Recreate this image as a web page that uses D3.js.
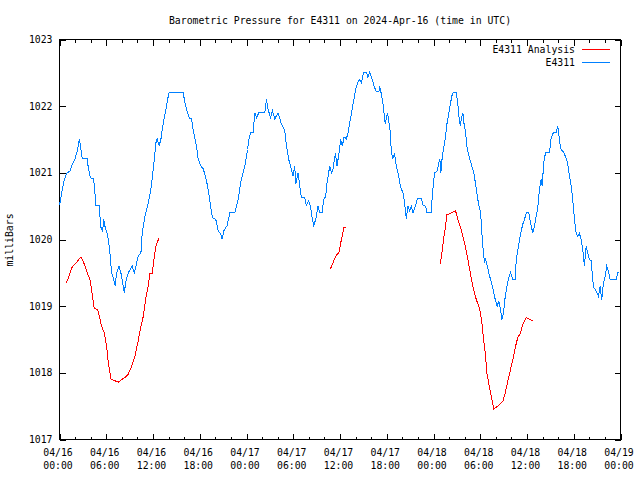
<!DOCTYPE html>
<html><head><meta charset="utf-8">
<script src="https://cdn.jsdelivr.net/npm/d3@7"></script>
<style>
body{margin:0;background:#fff;}
svg{display:block;}
text{font-family:"DejaVu Sans Mono","Liberation Mono",monospace;font-size:9.8px;fill:#000;}
</style></head><body>
<svg id="c" width="640" height="480"></svg>
<script>
// ---- data (hours since 2024-04-16 00:00 UTC) ----
const stationHours = [0.0,0.28,0.62,0.92,1.35,1.64,1.99,2.33,2.54,2.76,2.92,3.56,3.69,3.91,4.13,4.38,4.55,4.64,5.10,5.19,5.32,5.54,5.67,5.83,6.09,6.26,6.47,6.69,6.95,7.15,7.33,7.63,7.88,8.10,8.31,8.53,8.82,9.33,9.59,9.81,10.10,10.45,10.62,10.96,11.31,11.73,12.12,12.37,12.54,12.79,13.01,13.18,13.40,13.65,13.87,14.08,15.87,16.09,16.44,16.69,16.95,17.15,17.37,17.59,17.79,18.10,18.44,18.74,19.00,19.21,19.42,19.64,20.06,20.36,20.67,20.87,21.09,21.51,21.86,22.50,22.72,23.01,23.23,23.56,23.87,24.13,24.29,24.55,24.85,25.06,25.28,25.58,26.35,26.56,26.77,27.08,27.33,27.63,28.05,28.49,28.91,29.13,29.42,29.77,29.97,30.19,30.32,30.62,30.83,31.05,31.47,31.69,31.99,32.21,32.46,32.63,32.88,33.18,33.40,33.69,33.91,34.17,34.33,34.68,34.90,35.10,35.41,35.62,35.87,36.09,36.31,36.51,36.82,37.03,37.33,37.67,38.01,38.31,38.53,38.74,39.04,39.38,39.59,39.81,40.15,40.36,40.67,41.00,41.09,41.31,41.51,41.64,41.82,42.08,42.24,42.46,42.59,42.79,43.01,43.23,43.53,43.74,44.08,44.29,44.51,44.72,44.94,45.15,45.36,45.67,45.92,46.44,46.64,46.99,47.15,47.72,47.85,48.14,48.49,48.69,48.82,48.95,49.13,49.29,49.51,49.72,49.97,50.19,50.41,50.62,50.92,51.13,51.26,51.44,51.60,51.77,51.90,52.12,52.33,52.63,52.92,53.18,53.40,53.62,53.82,54.04,54.21,54.33,54.55,54.68,54.90,55.10,55.32,55.54,55.74,55.96,56.18,56.38,56.60,56.77,56.99,57.21,57.42,57.63,57.88,58.18,58.49,58.62,58.82,59.04,59.26,59.46,59.68,59.90,60.23,60.45,60.74,60.96,61.18,61.38,61.60,61.82,61.95,62.15,62.37,62.88,63.10,63.40,63.74,63.95,64.08,64.17,64.38,64.68,65.03,65.23,65.45,65.67,65.87,66.09,66.31,66.51,66.73,66.95,67.15,67.37,67.59,67.79,68.01,68.23,68.44,68.56,68.87,69.17,69.38,69.59,69.81,70.03,70.23,70.45,70.67,71.44,71.64,71.86];
const stationValues = [1020.51,1020.70,1020.90,1020.99,1021.03,1021.13,1021.21,1021.35,1021.51,1021.35,1021.21,1021.21,1021.08,1020.95,1020.91,1020.91,1020.70,1020.51,1020.51,1020.35,1020.18,1020.13,1020.31,1020.20,1020.10,1020.01,1019.80,1019.50,1019.40,1019.31,1019.50,1019.60,1019.50,1019.35,1019.20,1019.38,1019.50,1019.60,1019.50,1019.60,1019.75,1019.80,1020.10,1020.35,1020.51,1020.75,1021.15,1021.45,1021.51,1021.41,1021.50,1021.65,1021.80,1021.95,1022.10,1022.21,1022.21,1022.05,1021.90,1021.81,1021.81,1021.65,1021.52,1021.40,1021.21,1021.11,1021.06,1020.95,1020.80,1020.65,1020.47,1020.33,1020.30,1020.13,1020.09,1020.01,1020.13,1020.21,1020.40,1020.40,1020.50,1020.65,1020.85,1021.00,1021.15,1021.35,1021.50,1021.60,1021.60,1021.90,1021.83,1021.90,1021.90,1022.10,1021.95,1021.83,1021.93,1021.81,1021.90,1021.73,1021.63,1021.40,1021.20,1021.05,1020.95,1021.10,1020.83,1021.00,1020.80,1020.63,1020.63,1020.51,1020.58,1020.50,1020.30,1020.21,1020.30,1020.50,1020.40,1020.40,1020.60,1020.65,1020.85,1021.10,1021.00,1021.05,1021.30,1021.10,1021.30,1021.50,1021.40,1021.54,1021.51,1021.60,1021.80,1022.03,1022.25,1022.36,1022.40,1022.35,1022.51,1022.51,1022.43,1022.51,1022.40,1022.30,1022.22,1022.22,1022.30,1022.18,1022.05,1021.90,1021.73,1021.90,1021.80,1021.60,1021.30,1021.22,1021.28,1021.10,1020.95,1020.80,1020.70,1020.55,1020.31,1020.50,1020.43,1020.50,1020.40,1020.50,1020.61,1020.61,1020.52,1020.50,1020.41,1020.41,1020.68,1021.00,1021.03,1021.15,1021.20,1021.00,1021.25,1021.35,1021.52,1021.73,1021.90,1022.05,1022.18,1022.21,1022.21,1022.03,1021.85,1021.71,1021.83,1021.90,1021.75,1021.60,1021.35,1021.22,1021.10,1021.00,1020.83,1020.65,1020.51,1020.41,1020.10,1019.90,1019.65,1019.70,1019.60,1019.50,1019.40,1019.30,1019.20,1019.08,1019.00,1019.08,1018.95,1018.80,1018.90,1019.15,1019.30,1019.41,1019.50,1019.40,1019.40,1019.70,1019.83,1020.00,1020.13,1020.23,1020.30,1020.40,1020.40,1020.25,1020.10,1020.20,1020.35,1020.47,1020.75,1020.90,1020.81,1021.15,1021.30,1021.30,1021.52,1021.61,1021.61,1021.70,1021.60,1021.47,1021.35,1021.31,1021.22,1021.13,1020.95,1020.80,1020.60,1020.30,1020.10,1020.05,1020.09,1020.00,1019.85,1019.60,1019.90,1019.80,1019.70,1019.68,1019.40,1019.28,1019.23,1019.15,1019.30,1019.10,1019.35,1019.45,1019.60,1019.53,1019.40,1019.40,1019.50,1019.50];

// analysis series, null marks a gap
const analysisHours = [0.79,1.13,1.35,1.64,2.21,2.76,3.18,3.56,3.91,4.13,4.46,4.90,5.10,5.41,5.74,6.05,6.26,6.60,7.12,7.63,7.88,8.40,8.82,9.26,9.68,10.10,10.45,10.74,11.05,11.38,11.60,11.90,12.12,12.37,12.76,
  20.0,
  34.77,35.10,35.45,35.87,36.18,36.51,36.82,
  42.0,
  48.87,49.08,49.29,49.55,49.72,50.28,50.83,51.13,51.47,51.77,52.08,52.41,52.72,53.05,53.49,53.91,54.21,54.42,54.64,54.85,55.19,55.49,55.74,56.26,56.90,57.21,57.54,57.85,58.18,58.49,58.82,59.17,59.46,59.90,60.32,60.74];
const analysisValues = [1019.34,1019.42,1019.50,1019.59,1019.66,1019.74,1019.63,1019.50,1019.40,1019.23,1018.97,1018.95,1018.85,1018.70,1018.60,1018.40,1018.15,1017.91,1017.88,1017.86,1017.89,1017.93,1017.98,1018.10,1018.25,1018.48,1018.70,1018.84,1019.10,1019.30,1019.49,1019.49,1019.70,1019.90,1020.02,
  null,
  1019.56,1019.65,1019.75,1019.81,1020.00,1020.18,1020.19,
  null,
  1019.63,1019.80,1020.00,1020.20,1020.37,1020.40,1020.43,1020.30,1020.18,1020.05,1019.90,1019.70,1019.50,1019.30,1019.10,1018.97,1018.75,1018.50,1018.30,1018.00,1017.78,1017.60,1017.46,1017.50,1017.57,1017.70,1017.88,1018.03,1018.20,1018.38,1018.53,1018.60,1018.73,1018.83,1018.80,1018.78];

const yTicks = [1017,1018,1019,1020,1021,1022,1023];
const titleText = "Barometric Pressure for E4311 on 2024-Apr-16 (time in UTC)";
const yLabel = "milliBars";
const seriesNames = ["E4311 Analysis","E4311"];
const seriesColors = ["#ff0000","#0080ff"];

// ---- drawing ----
const t0 = Date.UTC(2024,3,16);
const toDate = h => new Date(t0 + h*3600e3);
const L=59.5, R=620.5, T=39.5, B=439.5;
const svg = d3.select("#c");
const x = d3.scaleUtc().domain([toDate(0), toDate(72)]).range([L,R]);
const y = d3.scaleLinear().domain([1017,1023]).range([B,T]);

function styleAxis(g){
  g.select(".domain").remove();
  g.selectAll("line").attr("stroke","#000").attr("shape-rendering","crispEdges");
  g.selectAll("text").attr("font-family",null).attr("font-size",null);
}

// minor x ticks (2h)
const minor = d3.utcHour.every(2).range(toDate(0), toDate(72.01));
svg.append("g").attr("transform",`translate(0,${B})`)
  .call(d3.axisBottom(x).tickValues(minor).tickSize(-3).tickFormat(""))
  .call(styleAxis);
svg.append("g").attr("transform",`translate(0,${T})`)
  .call(d3.axisTop(x).tickValues(minor).tickSize(-3).tickFormat(""))
  .call(styleAxis);

// major x ticks (6h)
const major = d3.utcHour.every(6).range(toDate(0), toDate(72.01));
const gx = svg.append("g").attr("transform",`translate(0,${B})`)
  .call(d3.axisBottom(x).tickValues(major).tickSize(-6).tickPadding(10).tickFormat(d3.utcFormat("%m/%d")))
  .call(styleAxis);
gx.selectAll("text").each(function(d){
  const t = d3.select(this);
  t.text(null).attr("x",-2);
  t.append("tspan").attr("x",-2).text(d3.utcFormat("%m/%d")(d));
  t.append("tspan").attr("x",-2).attr("dy","1.33em").text(d3.utcFormat("%H:%M")(d));
});
svg.append("g").attr("transform",`translate(0,${T})`)
  .call(d3.axisTop(x).tickValues(major).tickSize(-6).tickFormat(""))
  .call(styleAxis);

// y ticks
svg.append("g").attr("transform",`translate(${L},0)`)
  .call(d3.axisLeft(y).tickValues(yTicks).tickSize(-6).tickPadding(7).tickFormat(d3.format("d")))
  .call(styleAxis);
svg.append("g").attr("transform",`translate(${R},0)`)
  .call(d3.axisRight(y).tickValues(yTicks).tickSize(-6).tickFormat(""))
  .call(styleAxis);

// border
svg.append("rect").attr("x",L).attr("y",T).attr("width",R-L).attr("height",B-T)
  .attr("fill","none").attr("stroke","#000").attr("shape-rendering","crispEdges");

// lines
const stationData = stationHours.map((h,i)=>({t:toDate(h),v:stationValues[i]}));
const analysisData = analysisHours.map((h,i)=>({t:toDate(h),v:analysisValues[i]}));
const line = d3.line().defined(d=>d.v!=null).x(d=>x(d.t)).y(d=>y(d.v));
svg.append("path").datum(stationData).attr("d",line)
  .attr("fill","none").attr("stroke",seriesColors[1]).attr("stroke-width",1).attr("shape-rendering","crispEdges");
svg.append("path").datum(analysisData).attr("d",line)
  .attr("fill","none").attr("stroke",seriesColors[0]).attr("stroke-width",1).attr("shape-rendering","crispEdges");

// title
svg.append("text").attr("x",340).attr("y",24).attr("text-anchor","middle").text(titleText);
// y label
svg.append("text").attr("transform","translate(13,240) rotate(-90)").attr("text-anchor","middle").text(yLabel);

// legend
seriesNames.forEach((n,i)=>{
  const yy = 49.5 + i*13;
  svg.append("text").attr("x",575).attr("y",yy).attr("dy","0.35em").attr("text-anchor","end").text(n);
  svg.append("line").attr("x1",582).attr("x2",610).attr("y1",yy).attr("y2",yy)
    .attr("stroke",seriesColors[i]).attr("shape-rendering","crispEdges");
});
</script>
</body></html>
